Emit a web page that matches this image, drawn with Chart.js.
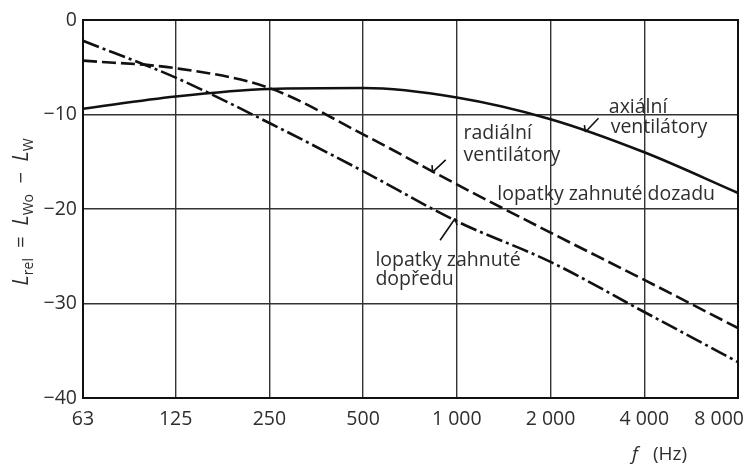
<!DOCTYPE html>
<html lang="cs">
<head>
<meta charset="UTF-8">
<title>Lrel</title>
<script src="https://cdn.jsdelivr.net/npm/chart.js"></script>
<style>
  html, body { margin: 0; padding: 0; background: #fff; }
  #wrap { width: 745px; height: 466px; position: relative; }
</style>
</head>
<body>
<div id="wrap"><canvas id="chart" width="745" height="466"></canvas></div>
<script>
// frequency bands (Hz) and their printed labels
const freqs = [63, 125, 250, 500, 1000, 2000, 4000, 8000];
const freqLabels = ['63', '125', '250', '500', '1 000', '2 000', '4 000', '8 000'];

// relative sound power level Lrel (dB)
const axial    = [-9.4, -8.1, -7.3, -7.2, -8.2, -10.5, -14.0, -18.3];
const backward = [-4.3, -5.1, -7.2, -12.1, -17.4, -22.5, -27.5, -32.6];
const forward  = [-2.2, -6.1, -10.9, -16.0, -21.3, -25.6, -30.9, -36.2];

const yTicks = [0, -10, -20, -30, -40];

const FONT = '"Open Sans", "DejaVu Sans", sans-serif';
const INK = '#2e2e2e';

// labels placed in axis units: octaves above 63 Hz, dB
const notes = [
  { t: 'axiální', oct: 5.61, db: -9.3 },
  { t: 'ventilátory', oct: 5.63, db: -11.4 },
  { t: 'radiální', oct: 4.06, db: -12.0 },
  { t: 'ventilátory', oct: 4.06, db: -14.3 },
  { t: 'lopatky zahnuté dozadu', oct: 4.42, db: -18.5 },
  { t: 'lopatky zahnuté', oct: 3.12, db: -25.4 },
  { t: 'dopředu', oct: 3.12, db: -27.5 }
];
const pointers = [
  { from: [5.50, -10.4], to: [5.36, -11.85] },
  { from: [3.87, -14.8], to: [3.73, -16.1] },
  { from: [3.81, -23.3], to: [3.97, -21.0] }
];

function toXY(data) {
  return data.map((v, i) => ({ x: freqs[i], y: v }));
}

const extras = {
  id: 'extras',
  afterDraw(chart) {
    const ctx = chart.ctx;
    const xs = chart.scales.x, ys = chart.scales.y;
    const a = chart.chartArea;
    const px = oct => xs.getPixelForValue(63 * Math.pow(2, oct));

    ctx.save();
    // frame
    ctx.strokeStyle = '#111';
    ctx.lineWidth = 2;
    ctx.strokeRect(a.left, a.top, a.right - a.left, a.bottom - a.top);

    // x tick labels
    ctx.fillStyle = INK;
    ctx.font = '19.5px ' + FONT;
    ctx.textBaseline = 'middle';
    ctx.textAlign = 'center';
    freqs.forEach((f, i) => {
      const w = ctx.measureText(freqLabels[i]).width;
      let x = xs.getPixelForValue(f);
      x = Math.min(x, chart.width - w / 2 - 1);
      ctx.fillText(freqLabels[i], x, a.bottom + 21);
    });

    // x title
    ctx.textAlign = 'left';
    ctx.font = 'italic 19px ' + FONT;
    ctx.fillText('f', 632, a.bottom + 57);
    ctx.font = '19px ' + FONT;
    ctx.fillText('(Hz)', 653, a.bottom + 57);

    // notes
    ctx.font = '19.5px ' + FONT;
    notes.forEach(n => ctx.fillText(n.t, px(n.oct), ys.getPixelForValue(n.db)));

    // pointers
    ctx.strokeStyle = '#111';
    ctx.lineWidth = 1.6;
    pointers.forEach(p => {
      const x1 = px(p.from[0]), y1 = ys.getPixelForValue(p.from[1]);
      const x2 = px(p.to[0]), y2 = ys.getPixelForValue(p.to[1]);
      ctx.beginPath();
      ctx.moveTo(x1, y1);
      ctx.lineTo(x2, y2);
      const ang = Math.atan2(y2 - y1, x2 - x1);
      ctx.moveTo(x2, y2);
      ctx.lineTo(x2 - 7 * Math.cos(ang - 0.9), y2 - 7 * Math.sin(ang - 0.9));
      ctx.stroke();
    });

    // y title, rotated: L_rel = L_Wo − L_W
    const parts = [
      ['L', 'italic 22px'], ['rel', '14px', 1], ['  =  ', '20px'],
      ['L', 'italic 22px'], ['Wo', '14px', 1], ['  −  ', '20px'],
      ['L', 'italic 22px'], ['W', '14px', 1]
    ];
    let total = 0;
    parts.forEach(p => { ctx.font = p[1] + ' ' + FONT; total += ctx.measureText(p[0]).width; });
    ctx.translate(22, 212);
    ctx.rotate(-Math.PI / 2);
    let cx = -total / 2;
    parts.forEach(p => {
      ctx.font = p[1] + ' ' + FONT;
      ctx.fillText(p[0], cx, p[2] ? 7 : 0);
      cx += ctx.measureText(p[0]).width;
    });
    ctx.restore();
  }
};

const lineStyle = {
  borderColor: '#111',
  borderWidth: 2.6,
  pointRadius: 0,
  fill: false,
  cubicInterpolationMode: 'monotone'
};

new Chart(document.getElementById('chart'), {
  type: 'line',
  data: {
    datasets: [
      Object.assign({ label: 'axiální ventilátory', data: toXY(axial) }, lineStyle),
      Object.assign({ label: 'lopatky zahnuté dozadu', data: toXY(backward), borderDash: [14, 5] }, lineStyle),
      Object.assign({ label: 'lopatky zahnuté dopředu', data: toXY(forward), borderDash: [17, 4, 3, 4] }, lineStyle)
    ]
  },
  options: {
    responsive: false,
    animation: false,
    layout: { padding: { top: 20, right: 7, left: 0, bottom: 0 } },
    plugins: { legend: { display: false }, tooltip: { enabled: false } },
    scales: {
      x: {
        type: 'logarithmic',
        min: 63,
        max: 8000,
        afterBuildTicks: s => { s.ticks = freqs.map(v => ({ value: v })); },
        afterFit: s => { s.height = 68; },
        ticks: { display: false },
        grid: { color: '#333', lineWidth: 1.4, drawTicks: false },
        border: { color: '#111', width: 2 }
      },
      y: {
        min: -40,
        max: 0,
        afterBuildTicks: s => { s.ticks = yTicks.map(v => ({ value: v })); },
        afterFit: s => { s.width = 83; },
        ticks: {
          color: INK,
          padding: 6,
          font: { family: FONT, size: 19.5 },
          callback: v => (v < 0 ? '−' + Math.abs(v) : String(v))
        },
        grid: { color: '#333', lineWidth: 1.4, drawTicks: false },
        border: { color: '#111', width: 2 }
      }
    }
  },
  plugins: [extras]
});
</script>
</body>
</html>
